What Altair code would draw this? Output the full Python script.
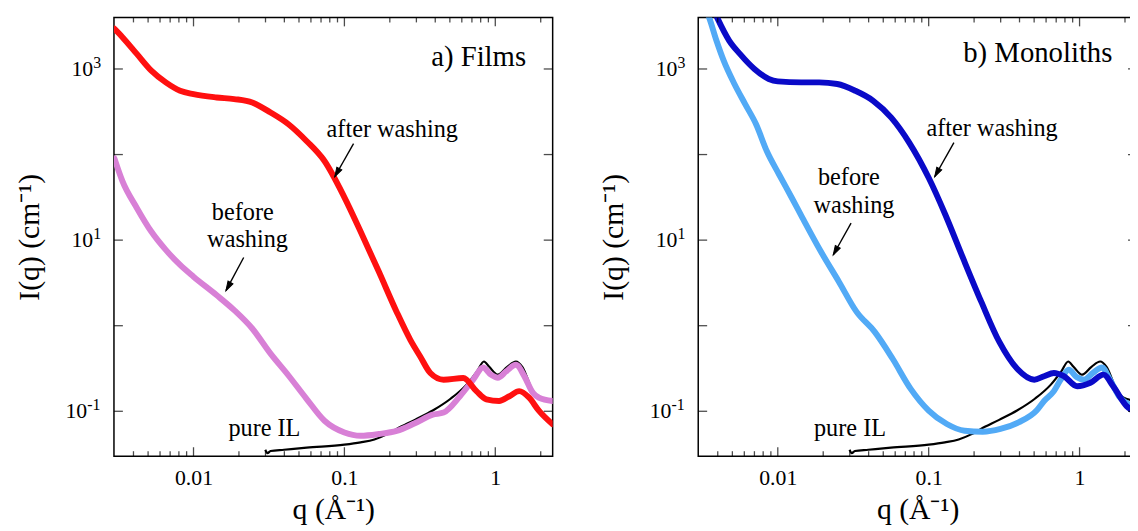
import altair as alt
import pandas as pd

FONT = "Liberation Serif"
X_DOMAIN = [0.00297, 2.40]
Y_DOMAIN = [0.0299, 4000]
W, H = 443, 443

x_major = [0.01, 0.1, 1]
x_minor = [0.004, 0.005, 0.006, 0.007, 0.008, 0.009,
           0.02, 0.03, 0.04, 0.05, 0.06, 0.07, 0.08, 0.09,
           0.2, 0.3, 0.4, 0.5, 0.6, 0.7, 0.8, 0.9, 2]
y_major = [0.1, 1, 10, 100, 1000]
# y tick labels: 10^3, 10^1 (one-character exponent) and 10^-1
y_lab_pos = [1000, 10]
y_lab_pos_exp = ["3", "1"]
y_lab_neg = [0.1]
y_lab_neg_exp = ["-1"]

# pure ionic liquid (same in both panels)
il_q = [0.0299, 0.0309, 0.0324, 0.0398, 0.0562, 0.100, 0.128, 0.158, 0.191, 0.222,
        0.293, 0.385, 0.508, 0.645, 0.759, 0.841, 0.912, 1.04, 1.20, 1.37, 1.51,
        1.77, 1.95, 2.39]
il_I = [0.0355, 0.0324, 0.0343, 0.0355, 0.0376, 0.0407, 0.0433, 0.0468, 0.0537, 0.0621,
        0.0794, 0.102, 0.141, 0.205, 0.295, 0.382, 0.331, 0.268, 0.331, 0.382, 0.331,
        0.174, 0.145, 0.132]

# a) Films
films_after_q = [0.00299, 0.00338, 0.00421, 0.00525, 0.00655, 0.00815, 0.0100, 0.0142,
                 0.0186, 0.0245, 0.0324, 0.0426, 0.0561, 0.0738, 0.100, 0.128, 0.169,
                 0.222, 0.274, 0.318, 0.371, 0.454, 0.614, 0.750, 0.873, 1.06, 1.24,
                 1.44, 1.67, 1.95, 2.39]
films_after_I = [2950, 2355, 1500, 955, 697, 557, 508, 465,
                 445, 406, 310, 226, 144, 84, 31.6, 12.6, 4.29,
                 1.45, 0.679, 0.437, 0.280, 0.234, 0.245, 0.172, 0.138, 0.132, 0.150,
                 0.172, 0.145, 0.101, 0.0708]
films_before_q = [0.00299, 0.00338, 0.00421, 0.00525, 0.00655, 0.00815, 0.0100, 0.0142,
                  0.0186, 0.0245, 0.0324, 0.0426, 0.0561, 0.0738, 0.100, 0.128, 0.169,
                  0.222, 0.293, 0.385, 0.454, 0.583, 0.714, 0.830, 0.933, 1.04, 1.18,
                  1.37, 1.56, 1.77, 1.95, 2.39]
films_before_I = [90.2, 48.9, 23.8, 12.6, 7.69, 5.13, 3.74, 2.28,
                  1.52, 0.927, 0.471, 0.262, 0.140, 0.0776, 0.0566, 0.0518, 0.0542,
                  0.0589, 0.0724, 0.0912, 0.0966, 0.150, 0.234, 0.324, 0.269, 0.247, 0.292,
                  0.349, 0.256, 0.166, 0.144, 0.132]

# b) Monoliths
mono_after_q = [0.00363, 0.00396, 0.00476, 0.00561, 0.00700, 0.00871, 0.0100, 0.0143,
                0.0188, 0.0248, 0.0326, 0.0429, 0.0565, 0.0743, 0.100, 0.129, 0.169,
                0.223, 0.294, 0.386, 0.501, 0.582, 0.676, 0.787, 0.964, 1.18, 1.44,
                1.67, 2.05, 2.40]
mono_after_I = [5620, 4000, 2150, 1500, 1000, 764, 716, 697,
                697, 667, 557, 425, 270, 138, 53.5, 19.8, 6.15,
                1.91, 0.646, 0.314, 0.234, 0.257, 0.280, 0.257, 0.196, 0.215, 0.268,
                0.196, 0.115, 0.0955]
mono_before_q = [0.00324, 0.00351, 0.00392, 0.00438, 0.00516, 0.00608, 0.00718, 0.00845,
                 0.0102, 0.0124, 0.0146, 0.0193, 0.0254, 0.0333, 0.0439, 0.0577, 0.0760,
                 0.100, 0.132, 0.173, 0.228, 0.299, 0.394, 0.519, 0.582, 0.676, 0.750,
                 0.849, 0.955, 1.07, 1.23, 1.41, 1.58, 1.85, 2.14, 2.40]
mono_before_I = [5620, 3980, 2150, 1250, 667, 388, 226, 110,
                 58.5, 31.1, 18.1, 7.36, 3.27, 1.45, 0.847, 0.411, 0.183,
                 0.102, 0.0710, 0.0593, 0.0577, 0.0621, 0.0743, 0.102, 0.132, 0.172, 0.234,
                 0.306, 0.251, 0.234, 0.282, 0.324, 0.240, 0.145, 0.120, 0.112]

# annotations
ann_text = ["after washing", "before", "washing", "pure IL"]
films_ann_q = [0.2075, 0.0212, 0.0228, 0.0295]
films_ann_I = [192, 20.7, 10.0, 0.062]
mono_ann_q = [0.263, 0.0296, 0.032, 0.0301]
mono_ann_I = [197, 53.5, 24.7, 0.062]

films_arrow_q = [0.115, 0.0215]
films_arrow_I = [134, 6.27]
films_arrow_q2 = [0.0863, 0.0164]
films_arrow_I2 = [55, 2.57]
mono_arrow_q = [0.147, 0.0306]
mono_arrow_I = [138, 15.8]
mono_arrow_q2 = [0.1096, 0.0233]
mono_arrow_I2 = [55, 6.7]

panel_titles = ["a) Films", "b) Monoliths"]
panel_title_q = [1.6, 1.65]
panel_title_I = [1090, 1200]

COL_FILM_AFTER = "#ff1010"
COL_FILM_BEFORE = "#d880d6"
COL_MONO_AFTER = "#0a0ac8"
COL_MONO_BEFORE = "#52aaf6"

ARROW_SHAPE = "M -0.3 1 L 0 0 L 0.3 1 Z"


def panel(idx, before_q, before_I, before_col, after_q, after_I, after_col,
          ann_q, ann_I, arr_q, arr_I, arr_q2, arr_I2):
    xs = alt.Scale(type="log", domain=X_DOMAIN, nice=False)
    ys = alt.Scale(type="log", domain=Y_DOMAIN, nice=False)

    x_axis = alt.Axis(values=x_major,
                      labelExpr="datum.value < 0.05 ? '0.01' : datum.value < 0.5 ? '0.1' : '1'",
                      title="q (Å⁻¹)", ticks=False, tickSize=0, domain=False, grid=False,
                      labelPadding=12, titlePadding=6, labelFlush=False)
    y_axis = alt.Axis(values=[0.1, 10, 1000], labels=False,
                      title="I(q) (cm⁻¹)", ticks=False, tickSize=0, domain=False, grid=False,
                      titlePadding=70)

    def X(f):
        return alt.X(f, scale=xs, axis=x_axis)

    def Y(f):
        return alt.Y(f, scale=ys, axis=y_axis)

    il_df = pd.DataFrame({"q": il_q, "I": il_I})
    bef_df = pd.DataFrame({"q": before_q, "I": before_I})
    aft_df = pd.DataFrame({"q": after_q, "I": after_I})

    il = alt.Chart(il_df).mark_line(color="black", strokeWidth=2.2, clip=True,
                                     interpolate="monotone").encode(x=X("q:Q"), y=Y("I:Q"))
    bef = alt.Chart(bef_df).mark_line(color=before_col, strokeWidth=6, clip=True,
                                       interpolate="monotone", strokeCap="round",
                                       strokeJoin="round").encode(x=X("q:Q"), y=Y("I:Q"))
    aft = alt.Chart(aft_df).mark_line(color=after_col, strokeWidth=6, clip=True,
                                       interpolate="monotone", strokeCap="round",
                                       strokeJoin="round").encode(x=X("q:Q"), y=Y("I:Q"))

    ann_df = pd.DataFrame({"q": ann_q, "I": ann_I, "t": ann_text})
    ann = alt.Chart(ann_df).mark_text(font=FONT, fontSize=24.5, color="black",
                                       baseline="middle", align="center").encode(
        x=X("q:Q"), y=Y("I:Q"), text="t:N")

    ttl_df = pd.DataFrame({"q": [panel_title_q[idx]], "I": [panel_title_I[idx]],
                           "t": [panel_titles[idx]]})
    ttl = alt.Chart(ttl_df).mark_text(font=FONT, fontSize=29, color="black",
                                       baseline="alphabetic", align="right").encode(
        x=X("q:Q"), y=Y("I:Q"), text="t:N")

    arr_df = pd.DataFrame({"q": arr_q, "I": arr_I, "q2": arr_q2, "I2": arr_I2})
    shaft = alt.Chart(arr_df).mark_rule(color="black", strokeWidth=1.4).encode(
        x=X("q:Q"), y=Y("I:Q"), x2="q2:Q", y2="I2:Q")
    head = alt.Chart(arr_df).mark_point(shape=ARROW_SHAPE, filled=True, fill="black",
                                         stroke="black", strokeWidth=1, size=360,
                                         angle=209, opacity=1).encode(
        x=X("q2:Q"), y=Y("I2:Q"))

    # y tick labels "10" with superscript exponent
    pos_df = pd.DataFrame({"v": y_lab_pos, "e": y_lab_pos_exp})
    neg_df = pd.DataFrame({"v": y_lab_neg, "e": y_lab_neg_exp})
    base_style = dict(font=FONT, fontSize=22, color="black", baseline="alphabetic",
                      align="right", dy=7)
    sup_style = dict(font=FONT, fontSize=16, color="black", baseline="alphabetic",
                     align="left", dy=-1)
    ylabels = [
        alt.Chart(pos_df).mark_text(**base_style).encode(
            y=Y("v:Q"), x=alt.value(-21), text=alt.value("10")),
        alt.Chart(neg_df).mark_text(**base_style).encode(
            y=Y("v:Q"), x=alt.value(-27), text=alt.value("10")),
        alt.Chart(pos_df).mark_text(**sup_style).encode(
            y=Y("v:Q"), x=alt.value(-21), text="e:N"),
        alt.Chart(neg_df).mark_text(**sup_style).encode(
            y=Y("v:Q"), x=alt.value(-27), text="e:N"),
    ]

    xmaj_df = pd.DataFrame({"v": x_major})
    xmin_df = pd.DataFrame({"v": x_minor})
    ymaj_df = pd.DataFrame({"v": y_major})
    MAJ, MIN = 9, 5
    tk = dict(color="black", thickness=1.3)
    ticks = [
        alt.Chart(xmaj_df).mark_tick(orient="vertical", size=MAJ, **tk).encode(
            x=X("v:Q"), y=alt.value(H - MAJ / 2)),
        alt.Chart(xmaj_df).mark_tick(orient="vertical", size=MAJ, **tk).encode(
            x=X("v:Q"), y=alt.value(MAJ / 2)),
        alt.Chart(xmin_df).mark_tick(orient="vertical", size=MIN, **tk).encode(
            x=X("v:Q"), y=alt.value(H - MIN / 2)),
        alt.Chart(xmin_df).mark_tick(orient="vertical", size=MIN, **tk).encode(
            x=X("v:Q"), y=alt.value(MIN / 2)),
        alt.Chart(ymaj_df).mark_tick(orient="horizontal", size=MAJ, **tk).encode(
            y=Y("v:Q"), x=alt.value(MAJ / 2)),
        alt.Chart(ymaj_df).mark_tick(orient="horizontal", size=MAJ, **tk).encode(
            y=Y("v:Q"), x=alt.value(W - MAJ / 2)),
    ]

    return alt.layer(il, bef, aft, ann, ttl, shaft, head, *ylabels, *ticks).properties(
        width=W, height=H)


left = panel(0, films_before_q, films_before_I, COL_FILM_BEFORE,
             films_after_q, films_after_I, COL_FILM_AFTER,
             films_ann_q, films_ann_I, films_arrow_q, films_arrow_I, films_arrow_q2, films_arrow_I2)
right = panel(1, mono_before_q, mono_before_I, COL_MONO_BEFORE,
              mono_after_q, mono_after_I, COL_MONO_AFTER,
              mono_ann_q, mono_ann_I, mono_arrow_q, mono_arrow_I, mono_arrow_q2, mono_arrow_I2)

chart = alt.hconcat(left, right, spacing=45).properties(
    padding={"left": 6, "top": 6, "right": -8, "bottom": 0},
    background="white",
).configure_view(stroke="black", strokeWidth=1.5).configure_axis(
    labelFont=FONT, labelFontSize=22, labelColor="black",
    titleFont=FONT, titleFontSize=30, titleFontWeight="normal", titleColor="black",
)

chart.save("out.html", embed_options={"renderer": "svg", "actions": False})
